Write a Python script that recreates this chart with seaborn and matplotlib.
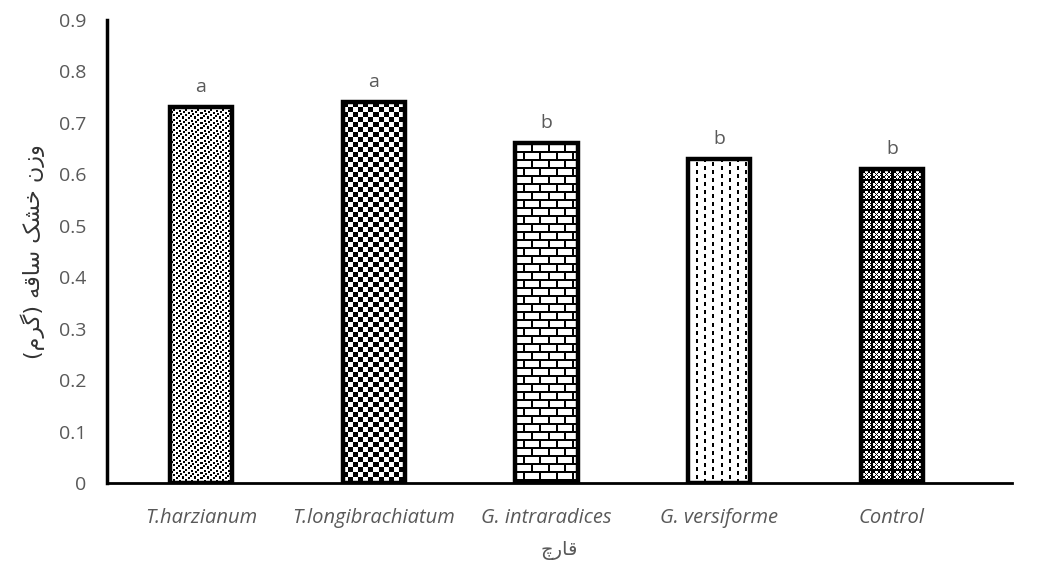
import numpy as np
import pandas as pd
import matplotlib
matplotlib.use("Agg")
import matplotlib.pyplot as plt
import seaborn as sns

# ---------------------------------------------
# data
# ---------------------------------------------
fungi = ["T.harzianum", "T.longibrachiatum", "G. intraradices", "G. versiforme", "Control"]
dry_weight = [0.73, 0.74, 0.66, 0.63, 0.61]
letters = ["a", "a", "b", "b", "b"]

# Persian labels written as shaped glyphs in visual order (matplotlib has no RTL shaping)
# y: "وزن خشک ساقه (گرم)"   x: "قارچ"
ylabel_fa = ("(\uFEE1\uFEAE\uFB94) \uFEEA\uFED7\uFE8E\uFEB3 "
             "\uFB8F\uFEB8\uFEA7 \uFEE5\uFEAF\uFEED")
xlabel_fa = "\uFB7A\uFEAD\uFE8E\uFED7"

df = pd.DataFrame({"fungus": fungi, "weight": dry_weight})

sns.set_theme(style="white")
plt.rcParams["font.family"] = ["Open Sans", "DejaVu Sans"]

fig = plt.figure(figsize=(10.37, 5.65), dpi=100)
ax = fig.add_axes([107 / 1037, 82 / 565, 905 / 1037, 463 / 565])

sns.barplot(data=df, x="fungus", y="weight", ax=ax, width=0.36,
            color="white", edgecolor="black", linewidth=3.2, zorder=3)

XLIM = (-0.544, 4.695)
ax.set_ylim(0, 0.9)
ax.set_yticks(np.arange(0, 0.91, 0.1))
ax.set_yticklabels(["0"] + [f"{v:.1f}" for v in np.arange(0.1, 0.91, 0.1)])
ax.set_xlim(*XLIM)
ax.tick_params(axis="y", length=0, labelsize=14, labelcolor="#595959", pad=15)
ax.tick_params(axis="x", length=0, labelsize=14.5, labelcolor="#595959", pad=18)
for lab in ax.get_xticklabels():
    lab.set_fontstyle("italic")

for side in ["top", "right"]:
    ax.spines[side].set_visible(False)
ax.spines["left"].set_linewidth(2.5)
ax.spines["bottom"].set_linewidth(2.0)
ax.spines["left"].set_color("black")
ax.spines["bottom"].set_color("black")

ax.set_xlabel(xlabel_fa, fontsize=14, color="#595959", labelpad=9, family="DejaVu Sans")
ax.set_ylabel(ylabel_fa, fontsize=16, color="#333333", labelpad=10, family="DejaVu Sans")


# ---------------------------------------------
# textures inside the bars
# ---------------------------------------------
def stipple(h, w):
    a = np.ones((h, w))
    pts = [(0, 0), (0, 6), (2, 3), (3, 9), (4, 1), (5, 6), (6, 10), (7, 3), (8, 8), (9, 0)]
    for (r, c) in pts:
        for dr in range(2):
            for dc in range(2):
                a[(r + dr)::10, (c + dc)::12] = 0
    return a


def checker(h, w):
    i, j = np.mgrid[0:h, 0:w]
    return (((i // 5) + (j // 5)) % 2).astype(float)


def bricks(h, w):
    i, j = np.mgrid[0:h, 0:w]
    a = np.ones((h, w))
    a[(i % 8) < 2] = 0
    row = i // 8
    off = np.where(row % 2 == 0, 0, 8)
    a[((j + off) % 16) < 2] = 0
    return a


def dashes(h, w):
    i, j = np.mgrid[0:h, 0:w]
    a = np.ones((h, w))
    col = j // 8
    off = np.where(col % 2 == 0, 0, 4)
    a[((j % 8) < 2) & (((i + off) % 8) < 4)] = 0
    return a


def lattice(h, w):
    i, j = np.mgrid[0:h, 0:w]
    a = np.ones((h, w))
    a[((i + j) % 5 == 0) | ((i - j) % 5 == 0)] = 0
    a[((i % 10) < 2) | ((j % 10) < 2)] = 0
    return a


textures = [stipple, checker, bricks, dashes, lattice]

fig.canvas.draw()
for patch, tex in zip(ax.patches, textures):
    patch.set_facecolor("none")
    bb = patch.get_window_extent()
    h = max(int(round(bb.height)), 1)
    w = max(int(round(bb.width)), 1)
    x0, y0 = patch.get_x(), patch.get_y()
    img = ax.imshow(tex(h, w), cmap="gray", vmin=0, vmax=1, interpolation="nearest",
                    extent=[x0, x0 + patch.get_width(), y0, y0 + patch.get_height()],
                    aspect="auto", zorder=2)
    img.set_clip_path(patch)

ax.set_xlim(*XLIM)
ax.set_ylim(0, 0.9)

for k, (v, s) in enumerate(zip(dry_weight, letters)):
    ax.text(k, v + 0.022, s, ha="center", va="bottom", fontsize=14, color="#595959")

fig.savefig("out.png", dpi=100)
